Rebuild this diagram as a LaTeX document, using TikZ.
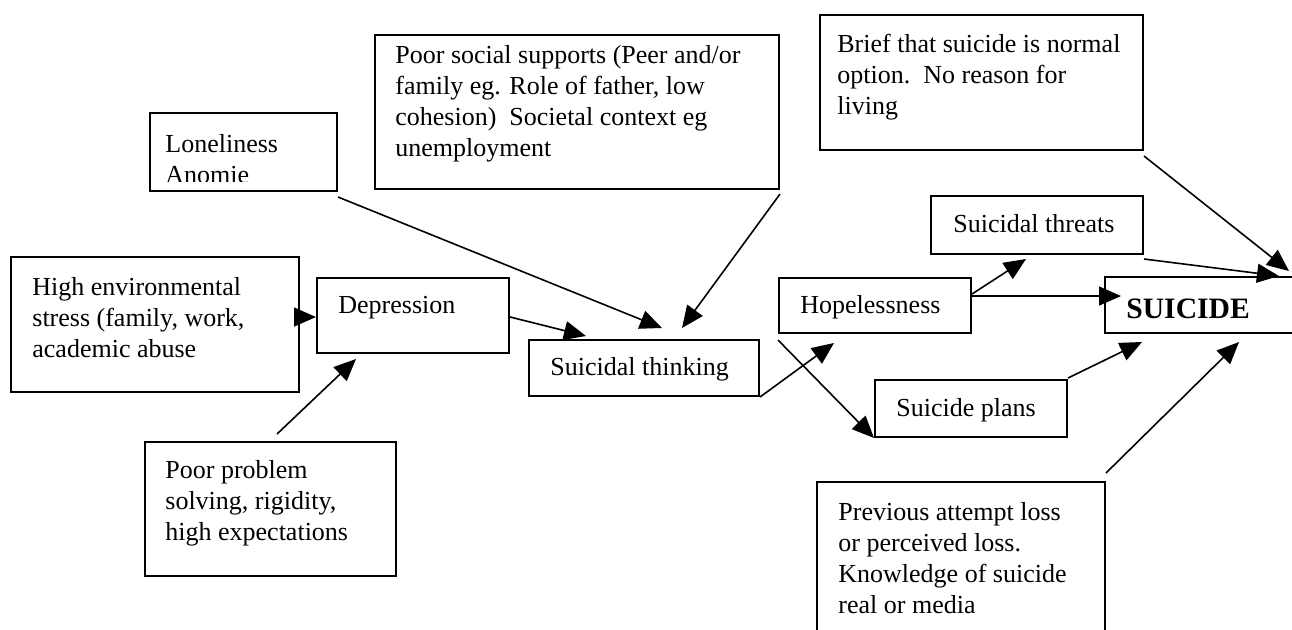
\documentclass[tikz,border=0pt]{standalone}
\usepackage{fontspec}
\setmainfont{Liberation Serif}
\usetikzlibrary{arrows.meta,fit,calc}
\newcommand\mltext[1]{\parbox[t]{330pt}{\raggedright #1}}
\begin{document}
\begin{tikzpicture}[x=0.5pt,y=-0.5pt,
  box/.style={draw, line width=1pt, inner sep=0pt},
  txt/.style={inner sep=0pt, anchor=base west, font=\fontsize{13pt}{15.6pt}\selectfont},
  arr/.style={line width=0.8pt, -{Triangle[length=11pt,width=9.5pt]}}]
\useasboundingbox (0,0) rectangle (1292,629);
\clip (0,0) rectangle (1292,629);
% boxes
\node[box, fit={(150,113)(337,191)}] (lone) {};
\node[box, fit={(375,35)(779,189)}] (soc) {};
\node[box, fit={(820,15)(1143,150)}] (brief) {};
\node[box, fit={(931,196)(1143,254)}] (threat) {};
\node[box, fit={(11,257)(299,392)}] (env) {};
\node[box, fit={(317,278)(509,353)}] (dep) {};
\node[box, fit={(529,340)(759,396)}] (st) {};
\node[box, fit={(779,278)(971,333)}] (hope) {};
\node[box, fit={(1105,277)(1330,333)}] (sui) {};
\node[box, fit={(875,380)(1067,437)}] (plans) {};
\node[box, fit={(145,442)(396,576)}] (prob) {};
\node[box, fit={(817,482)(1105,680)}] (prev) {};
% texts
\begin{scope}
\clip (150,113) rectangle (337,181);
\node[txt] (lonet) at (165,152) {\mltext{Loneliness\\Anomie}};
\end{scope}
\node[txt] (soct) at (395,63) {\mltext{Poor social supports (Peer and/or\\family eg. Role of father, low\\cohesion)\ \ Societal context eg\\unemployment}};
\node[txt] (brieft) at (837,52) {\mltext{Brief that suicide is normal\\option.\ \ No reason for\\living}};
\node[txt] (threatt) at (953,232) {Suicidal threats};
\node[txt] (envt) at (32,295) {\mltext{High environmental\\stress (family, work,\\academic abuse}};
\node[txt] (dept) at (338,313) {Depression};
\node[txt] (stt) at (550,375) {Suicidal thinking};
\node[txt] (hopet) at (800,313) {Hopelessness};
\node[txt, font=\fontsize{14.8pt}{17pt}\selectfont\bfseries] (suit) at (1126,318) {SUICIDE};
\node[txt] (planst) at (896,416) {Suicide plans};
\node[txt] (probt) at (165,478) {\mltext{Poor problem\\solving, rigidity,\\high expectations}};
\node[txt] (prevt) at (838,520) {\mltext{Previous attempt loss\\or perceived loss.\\Knowledge of suicide\\real or media}};
% connectors
\draw[arr] ($(env.north east)+(0,61)$) -- ($(dep.north west)+(0,40)$);
\draw[arr] ($(prob.north west)+(133,-7)$) -- ($(dep.south west)+(40,5)$);
\draw[arr] ($(dep.north east)+(0,40)$) -- ($(st.north west)+(58,-3)$);
\draw[arr] ($(lone.south east)+(0,5)$) -- ($(st.north west)+(134,-11)$);
\draw[arr] ($(soc.south east)+(0,4)$) -- ($(st.north west)+(154,-11)$);
\draw[arr] (st.south east) -- ($(hope.south west)+(56,9)$);
\draw[arr] ($(hope.south west)+(0,6)$) -- (plans.south west);
\draw[arr] ($(hope.north east)+(0,17)$) -- ($(threat.south west)+(96,4)$);
\draw[arr] ($(hope.north east)+(0,19)$) -- ($(sui.north west)+(17,20)$);
\draw[arr] ($(threat.south east)+(0,4)$) -- ($(sui.north west)+(175,0)$);
\draw[arr] ($(brief.south east)+(0,5)$) -- ($(sui.north west)+(185,-5)$);
\draw[arr] ($(plans.north east)+(0,-1)$) -- ($(sui.south west)+(38,8)$);
\draw[arr] ($(prev.north east)+(0,-8)$) -- ($(sui.south west)+(135,8)$);
\end{tikzpicture}
\end{document}
